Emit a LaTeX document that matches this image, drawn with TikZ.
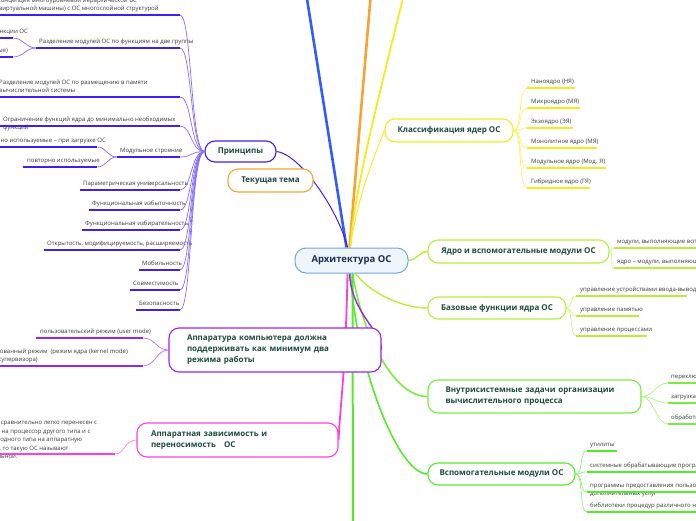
\documentclass[tikz,border=0pt]{standalone}
\usepackage{fontspec}
\setmainfont{Open Sans}
\usetikzlibrary{backgrounds}
\definecolor{RootBlue}{HTML}{6FA8DC}
\definecolor{RootFill}{HTML}{EEF5FB}
\definecolor{RootInk}{HTML}{1C2E52}
\definecolor{TopicInk}{HTML}{1E4A3C}
\definecolor{LeafInk}{HTML}{3A3A3A}
\definecolor{PrincViolet}{HTML}{3D1FF2}
\definecolor{TopicOrange}{HTML}{F7A334}
\definecolor{TopBlue}{HTML}{2F5BFF}
\definecolor{KernYellow}{HTML}{F2EC1C}
\definecolor{CoreLime}{HTML}{B6EE3A}
\definecolor{TaskGreen}{HTML}{7BEC3E}
\definecolor{AuxGreen}{HTML}{55EA2C}
\definecolor{ModePurple}{HTML}{9A24EE}
\definecolor{PortPink}{HTML}{FF3FDC}

\begin{document}
\begin{tikzpicture}[x=1pt,y=-1pt,
 font=\fontsize{6}{8.5}\selectfont,
 topic/.style={draw=#1,fill=white,line width=1.1pt,rounded corners=10pt,
   inner sep=0pt,align=center,text=TopicInk,font=\fontsize{8}{11}\selectfont\bfseries},
 leaf/.style={inner sep=0pt,align=left,text=LeafInk},
 uline/.style={draw=#1,line width=2.2pt},
 twig/.style={draw=#1!65,line width=.7pt},
 branch/.style={draw=#1,line width=1.6pt}
]
 \useasboundingbox (0,0) rectangle (696,520);
 \clip (0,0) rectangle (696,520);

 \node[draw=RootBlue,fill=RootFill,line width=1pt,rounded corners=11pt,
   minimum width=113pt,minimum height=25pt,text=RootInk,
   font=\fontsize{9.5}{11}\selectfont\bfseries] (arch) at (351.5,260.5) {Архитектура ОС};

 \node[topic=PrincViolet,minimum width=71pt,minimum height=21pt] (princ) at (240.5,151.5) {Принципы};
 \node[topic=TopicOrange,minimum width=85pt,minimum height=23pt] (tema) at (270.5,180.5) {Текущая тема};
 \node[topic=KernYellow,minimum width=128pt,minimum height=23pt] (klass) at (449,130.5) {Классификация ядер ОС};
 \node[topic=CoreLime,minimum width=181pt,minimum height=23pt] (yadro) at (518.5,251.5) {Ядро и вспомогательные модули ОС};
 \node[topic=CoreLime,minimum width=138pt,minimum height=22pt] (baz) at (497,308) {Базовые функции ядра ОС};
 \node[topic=TaskGreen,minimum width=213pt,minimum height=33pt,text width=178pt,align=left] (vnutr) at (534.5,396.5)
   {Внутрисистемные задачи организации\\вычислительного процесса};
 \node[topic=AuxGreen,minimum width=147pt,minimum height=22pt] (vspom) at (501.5,474) {Вспомогательные модули ОС};
 \node[topic=ModePurple,minimum width=212pt,minimum height=44pt,text width=176pt,align=left] (appar) at (275,350)
   {Аппаратура компьютера должна\\поддерживать как минимум два\\режима работы};
 \node[topic=PortPink,minimum width=201pt,minimum height=34pt,text width=173pt,align=left] (apz) at (237.5,440)
   {Аппаратная зависимость и\\переносимость \ \ ОС};

 % ends of branches leaving the page
 \coordinate (upBlue) at (304,-20);
 \coordinate (upOrange) at (372,-20);
 \coordinate (upYellow) at (407,-20);
 \coordinate (downGreen) at (353,540);

 \begin{scope}[on background layer]
  \draw[branch=TopBlue,line width=2.6pt] ([xshift=-5pt]arch.north) -- (upBlue);
  \draw[branch=TopicOrange,line width=2.6pt] ([xshift=-2pt]arch.north) -- (upOrange);
  \draw[branch=KernYellow,line width=1.8pt] ([xshift=-1pt]arch.north) .. controls +(2,-60) and +(-8,40) .. (upYellow);
  \draw[branch=PrincViolet,line width=1pt] (princ.east) .. controls +(22,2) and +(-10,-40) .. ([xshift=-4pt]arch.north);
  \draw[branch=KernYellow,line width=.9pt] ([xshift=-1pt]arch.north) .. controls +(6,-50) and +(-6,15) .. (klass.west);
  \draw[branch=CoreLime,line width=1.4pt] (arch.east) .. controls +(8,0) and +(-8,0) .. (yadro.west);
  \draw[branch=CoreLime,line width=1.4pt] ([xshift=4pt]arch.south) .. controls +(15,20) and +(-25,0) .. (baz.west);
  \draw[branch=TaskGreen] ([xshift=1pt]arch.south) .. controls +(10,60) and +(-35,0) .. (vnutr.west);
  \draw[branch=AuxGreen] ([xshift=-1pt]arch.south) .. controls +(5,90) and +(-30,0) .. (vspom.west);
  \draw[branch=AuxGreen,line width=2pt] ([xshift=1pt]arch.south) -- (downGreen);
  \draw[branch=ModePurple,line width=1.4pt] ([xshift=-2pt]arch.south) .. controls +(2,40) and +(0,-20) .. (appar.east);
  \draw[branch=PortPink,line width=1.8pt] ([xshift=-4pt]arch.south) .. controls +(-2,100) and +(2,-40) .. (apz.east);
 \end{scope}

 % kernel classes
 \foreach \n/\y/\e/\txt in {1/88/575/Наноядро (НЯ),2/108/580/Микроядро (МЯ),3/128/573/Экзоядро (ЭЯ),
   4/148/597/Монолитное ядро (МЯ),5/168/606/Модульное ядро (Мод. Я),6/188/590/Гибридное ядро (ГЯ)}{
  \coordinate (kl\n-a) at (527,\y);
  \coordinate (kl\n-b) at (\e,\y);
  \node[leaf,anchor=base west] (kl\n) at (531,\y-4.5) {\txt};
  \draw[uline=KernYellow] (kl\n-a) -- (kl\n-b);
  \draw[twig=KernYellow] (klass.east) .. controls +(9,0) and +(-9,0) .. (kl\n-a);
 }

 % kernel and auxiliary modules
 \foreach \n/\y/\txt in {1/248/{модули, выполняющие вспомогательные функции ОС},
   2/268/{ядро – модули, выполняющие основные функции ОС}}{
  \coordinate (ya\n-a) at (614,\y);
  \coordinate (ya\n-b) at (720,\y);
  \node[leaf,anchor=base west] (ya\n) at (617,\y-4.5) {\txt};
  \draw[uline=CoreLime] (ya\n-a) -- (ya\n-b);
  \draw[twig=CoreLime] (yadro.east) .. controls +(5,0) and +(-5,0) .. (ya\n-a);
 }

 % base functions
 \foreach \n/\y/\e/\txt in {1/296/687/управление устройствами ввода-вывода,
   2/316/639/управление памятью,3/336/647/управление процессами}{
  \coordinate (bf\n-a) at (576,\y);
  \coordinate (bf\n-b) at (\e,\y);
  \node[leaf,anchor=base west] (bf\n) at (580,\y-4.5) {\txt};
  \draw[uline=CoreLime] (bf\n-a) -- (bf\n-b);
  \draw[twig=CoreLime] (baz.east) .. controls +(6,0) and +(-6,0) .. (bf\n-a);
 }

 % internal tasks
 \foreach \n/\y/\txt in {1/383/переключение контекстов,2/403/{загрузка/выгрузка страниц},
   3/424/обработка прерываний}{
  \coordinate (vz\n-a) at (668,\y);
  \coordinate (vz\n-b) at (720,\y);
  \node[leaf,anchor=base west] (vz\n) at (671,\y-4.5) {\txt};
  \draw[uline=TaskGreen] (vz\n-a) -- (vz\n-b);
  \draw[twig=TaskGreen] (vnutr.east) .. controls +(12,0) and +(-12,0) .. (vz\n-a);
 }

 % auxiliary modules
 \foreach \n/\y/\e/\d/\txt in {1/451/617/-4.5/утилиты,2/472/720/-4.5/системные обрабатывающие программы,
   3/492/720/3.5/{программы предоставления пользователю\\дополнительных услуг},
   4/512/720/-4.5/библиотеки процедур различного назначения}{
  \coordinate (vm\n-a) at (587,\y);
  \coordinate (vm\n-b) at (\e,\y);
  \node[leaf,anchor=base west] (vm\n) at (590,\y+\d) {\txt};
  \draw[uline=AuxGreen] (vm\n-a) -- (vm\n-b);
  \draw[twig=AuxGreen] (vspom.east) .. controls +(8,0) and +(-8,0) .. (vm\n-a);
 }

 % principles
 \foreach \n/\a/\y/\txt in {6/80/190/Параметрическая универсальность,7/89/210/Функциональная избыточность,
   8/82/230/Функциональная избирательность,9/44/250/{Открытость, модифицируемость, расширяемость},
   10/139/270/Мобильность,11/130/290/Совместимость,12/136/310/Безопасность,
   2/36/48/Разделение модулей ОС по функциям на две группы,5/117/157/Модульное строение}{
  \coordinate (pr\n-a) at (\a,\y);
  \coordinate (pr\n-b) at (180,\y);
  \node[leaf,anchor=base west] (pr\n) at (\a+3,\y-4.5) {\txt};
  \draw[uline=PrincViolet] (pr\n-a) -- (pr\n-b);
  \draw[twig=PrincViolet] (princ.west) .. controls +(-14,0) and +(12,0) .. (pr\n-b);
 }
 \foreach \n/\y/\x/\d/\txt in {1/15/-3/-4.5/{Концепция многоуровневой иерархической ВС\\(виртуальной машины) с ОС многослойной структурой},
   3/97/-1/-4.5/{Разделение модулей ОС по размещению в памяти\\вычислительной системы},
   4/126/3/3.5/{Ограничение функций ядра до минимально необходимых\\функций}}{
  \coordinate (pr\n-a) at (-5,\y);
  \coordinate (pr\n-b) at (180,\y);
  \node[leaf,anchor=base west] (pr\n) at (\x,\y+\d) {\txt};
  \draw[uline=PrincViolet] (pr\n-a) -- (pr\n-b);
  \draw[twig=PrincViolet] (princ.west) .. controls +(-14,0) and +(12,0) .. (pr\n-b);
 }

 % two groups of modules
 \foreach \n/\y/\x/\txt in {1/38/28/{ядро – модули, выполняющие основные функции ОС},
   2/57/8/{модули, выполняющие вспомогательные функции (вспомогательные)}}{
  \coordinate (sg\n-a) at (-5,\y);
  \coordinate (sg\n-b) at (13,\y);
  \node[leaf,anchor=base east] (sg\n) at (\x,\y-4.5) {\txt};
  \draw[uline=PrincViolet] (sg\n-a) -- (sg\n-b);
  \draw[twig=PrincViolet] (pr2-a) .. controls +(-10,0) and +(10,0) .. (sg\n-b);
 }
 % modular structure
 \coordinate (ms1-a) at (-5,147);
 \coordinate (ms1-b) at (97,147);
 \node[leaf,anchor=base east] (ms1) at (106,142.5) {однократно используемые – при загрузке ОС};
 \coordinate (ms2-a) at (23,167);
 \coordinate (ms2-b) at (97,167);
 \node[leaf,anchor=base west] (ms2) at (27,162.5) {повторно используемые};
 \foreach \n in {1,2}{
  \draw[uline=PrincViolet] (ms\n-a) -- (ms\n-b);
  \draw[twig=PrincViolet] (pr5-a) .. controls +(-10,0) and +(10,0) .. (ms\n-b);
 }

 % operating modes
 \coordinate (md1-a) at (36,338);
 \coordinate (md1-b) at (143,338);
 \node[leaf,anchor=base west] (md1) at (40,333.5) {пользовательский режим (user mode)};
 \coordinate (md2-a) at (-5,366);
 \coordinate (md2-b) at (143,366);
 \node[leaf,anchor=base east] (md2) at (128,361.5)
   {привилегированный режим \ (режим ядра (kernel mode)\\или режим супервизора)};
 \foreach \n in {1,2}{
  \draw[uline=ModePurple] (md\n-a) -- (md\n-b);
  \draw[twig=ModePurple] (appar.west) .. controls +(-12,0) and +(12,0) .. (md\n-b);
 }

 % portability
 \coordinate (pt-a) at (-5,454);
 \coordinate (pt-b) at (115,454);
 \node[leaf,anchor=base west] (pt) at (-72,458.5)
   {Если код ОС может быть сравнительно легко перенесен с\\процессора одного типа на процессор другого типа и с\\
    аппаратной платформы одного типа на аппаратную\\платформу другого типа, то такую ОС называют\\
    переносимой или мобильной.};
 \draw[uline=PortPink] (pt-a) -- (pt-b);
 \draw[twig=PortPink] (apz.west) .. controls +(-12,0) and +(10,0) .. (pt-b);
\end{tikzpicture}
\end{document}
